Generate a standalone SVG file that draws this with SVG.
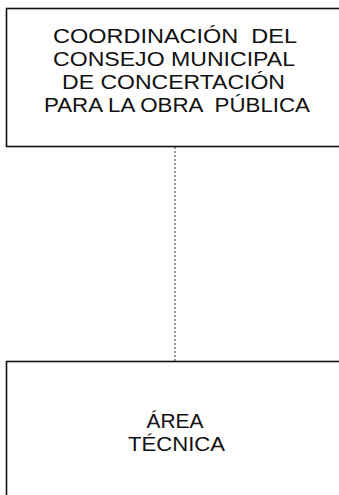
<svg xmlns="http://www.w3.org/2000/svg" width="339" height="495" viewBox="0 0 339 495">
<style>
.box{fill:#fff;stroke:#111;stroke-width:1.6}
.lbl{font-family:"Liberation Sans","DejaVu Sans",sans-serif;font-size:19.5px;fill:#111;text-anchor:middle}
.conn{stroke:#333;stroke-width:1;stroke-dasharray:2 2;fill:none}
</style>
<rect width="339" height="495" fill="#fff"/>
<g id="connectors">
<line class="conn" x1="175" y1="147" x2="175" y2="361"/>
</g>
<g id="node-coordinacion">
<rect class="box" x="6.5" y="8.5" width="340" height="138"/>
<text class="lbl" x="175" y="43.3" textLength="244" lengthAdjust="spacingAndGlyphs" xml:space="preserve">COORDINACIÓN  DEL</text>
<text class="lbl" x="174" y="66" textLength="242" lengthAdjust="spacingAndGlyphs">CONSEJO MUNICIPAL</text>
<text class="lbl" x="173.5" y="89" textLength="223" lengthAdjust="spacingAndGlyphs">DE CONCERTACIÓN</text>
<text class="lbl" x="177" y="111.7" textLength="266" lengthAdjust="spacingAndGlyphs" xml:space="preserve">PARA LA OBRA  PÚBLICA</text>
</g>
<g id="node-area-tecnica">
<rect class="box" x="6.5" y="361.5" width="340" height="150"/>
<text class="lbl" x="175" y="428" textLength="57" lengthAdjust="spacingAndGlyphs">ÁREA</text>
<text class="lbl" x="176.5" y="451" textLength="97" lengthAdjust="spacingAndGlyphs">TÉCNICA</text>
</g>
</svg>
